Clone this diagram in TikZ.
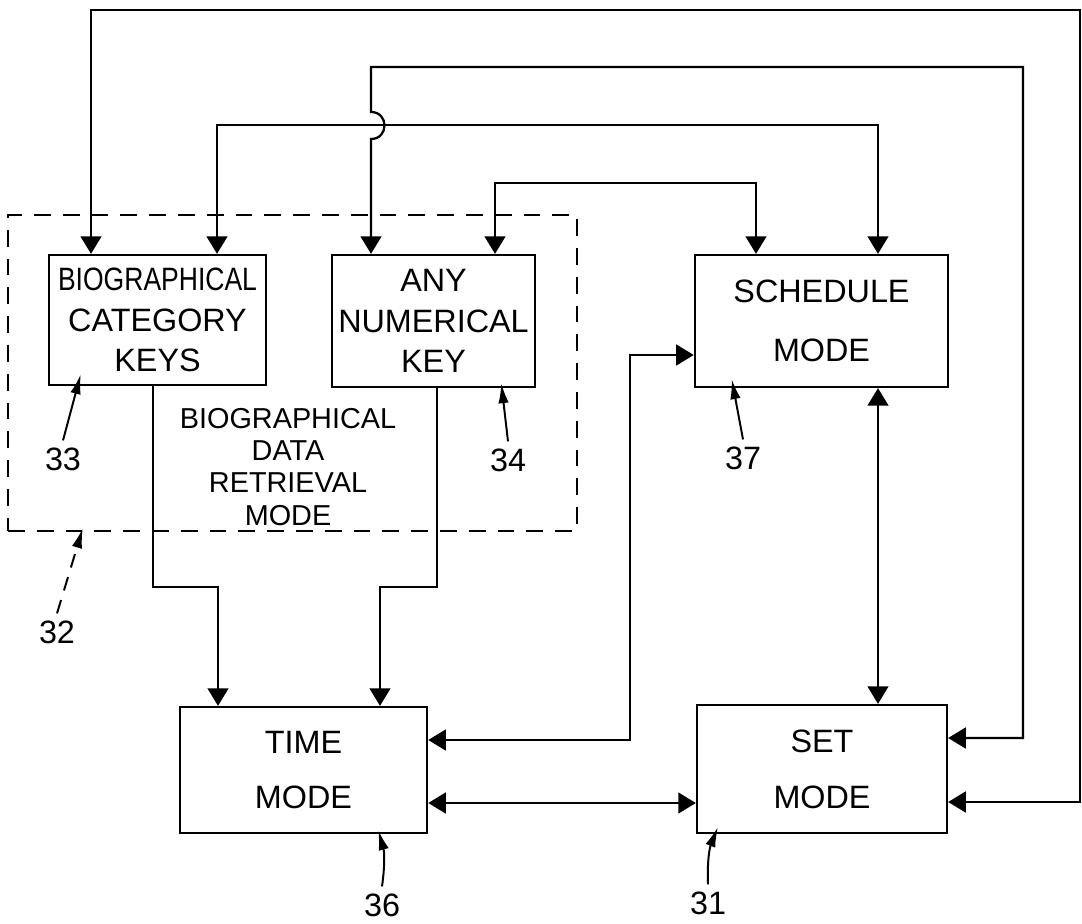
\documentclass[tikz,border=0pt]{standalone}
\usepackage{fontspec}
\setmainfont{Liberation Sans}
\newfontfamily\narrowfont{Liberation Sans}[FakeStretch=0.82]
\usetikzlibrary{arrows.meta}

\begin{document}
\begin{tikzpicture}[
  x=0.025cm, y=-0.025cm,
  line width=1.6pt,
  blk/.style={draw,rectangle,align=center,inner sep=0pt,
    font=\fontsize{23}{29}\selectfont},
  arr/.style={-{Triangle[length=0.44cm,width=0.52cm]}},
  dbl/.style={{Triangle[length=0.44cm,width=0.52cm]}-{Triangle[length=0.44cm,width=0.52cm]}},
  ref/.style={inner sep=0.15cm,font=\fontsize{23}{23}\selectfont},
  lead/.style={line width=1.4pt,-{Latex[length=0.5cm,width=0.26cm]}},
]
  \useasboundingbox (0,0) rectangle (1082,924);

  % dashed region of the retrieval mode
  \node[draw,dash pattern=on 0.42cm off 0.3cm,minimum width=14.225cm,
    minimum height=7.9cm] (region) at (292.5,373) {};
  \node[align=center,font=\fontsize{20.5}{22.8}\selectfont] (regtext) at (288,467)
    {BIOGRAPHICAL\\DATA\\RETRIEVAL\\MODE};

  % blocks
  \node[blk,minimum width=5.43cm,minimum height=3.25cm] (bio) at (157.5,320)
    {{\narrowfont BIOGRAPHICAL}\\CATEGORY\\KEYS};
  \node[blk,minimum width=5.08cm,minimum height=3.3cm] (anykey) at (433.5,321)
    {ANY\\NUMERICAL\\KEY};
  \node[blk,minimum width=6.33cm,minimum height=3.3cm,
    font=\fontsize{23}{42}\selectfont] (sched) at (821.5,321) {SCHEDULE\\MODE};
  \node[blk,minimum width=6.18cm,minimum height=3.15cm,
    font=\fontsize{23}{39}\selectfont] (time) at (303.5,770) {TIME\\MODE};
  \node[blk,minimum width=6.25cm,minimum height=3.2cm,
    font=\fontsize{23}{40}\selectfont] (set) at (822,769) {SET\\MODE};

  % connectors
  \draw[dbl] (bio.north -| 91,0) |- (1080,10) |- (set.east |- 0,802);
  \draw[dbl] (anykey.north -| 371,0) -- (371,139)
    .. controls (389,139) and (389,112) .. (371,112)
    |- (1023,67) |- (set.east |- 0,738);
  \draw[dbl] (bio.north -| 217,0) |- (878,125) -- (sched.north -| 878,0);
  \draw[dbl] (anykey.north -| 495,0) |- (756,183) -- (sched.north -| 756,0);
  \draw[arr] (bio.south -| 153,0) |- (218,587) -- (time.north -| 218,0);
  \draw[arr] (anykey.south -| 437,0) |- (380,587) -- (time.north -| 380,0);
  \draw[dbl] (time.east |- 0,740) -| (630,355) -- (sched.west |- 0,355);
  \draw[dbl] (time.east |- 0,803) -- (set.west |- 0,803);
  \draw[dbl] (sched.south -| 878,0) -- (set.north -| 878,0);

  % reference numerals
  \node[ref] (n33) at (63,459) {33};
  \node[ref] (n34) at (508,460) {34};
  \node[ref] (n37) at (743,458) {37};
  \node[ref] (n36) at (382,905) {36};
  \node[ref] (n31) at (708,903) {31};
  \node[ref] (n32) at (57,632) {32};
  \draw[lead] (n33.north) -- ([shift={(33,-12)}]bio.south west);
  \draw[lead] (n34.north) -- ([shift={(-35,-5)}]anykey.south east);
  \draw[lead] (n37.north) -- ([shift={(38,-9)}]sched.south west);
  \draw[lead] (n36.north) to[bend right=12] ([shift={(-50,-4)}]time.south east);
  \draw[lead] (n31.north) to[bend left=12] ([shift={(22,-7)}]set.south west);
  \draw[lead,dash pattern=on 0.35cm off 0.25cm] (n32.north)
    -- ([shift={(76,-4)}]region.south west);
\end{tikzpicture}
\end{document}
